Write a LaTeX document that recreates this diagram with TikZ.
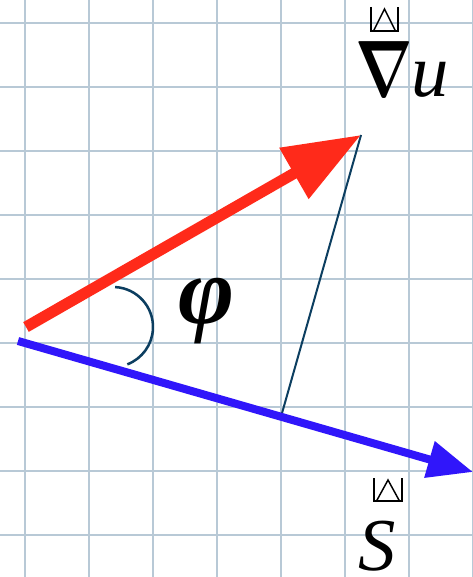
\documentclass[tikz,border=0pt]{standalone}
\usepackage{fontspec}
\setmainfont{Liberation Serif}
\usepackage{graphicx}
\usetikzlibrary{arrows.meta,calc}
\definecolor{gridc}{RGB}{184,201,214}
\definecolor{redc}{RGB}{255,42,26}
\definecolor{bluec}{RGB}{48,22,250}
\definecolor{darkc}{RGB}{12,62,96}
\begin{document}
\begin{tikzpicture}[x=0.75pt,y=-0.75pt,
  gridline/.style={draw=gridc,line width=1.9pt},
  bigtext/.style={inner sep=0pt,font=\fontsize{56}{60}\selectfont},
  tofu/.style={draw=black,line width=1.1pt}]
\useasboundingbox (0,0) rectangle (473,577);
\fill[white] (0,0) rectangle (473,577);
\clip (0,0) rectangle (473,577);
\foreach \x in {25,89,...,473} \draw[gridline] (\x,0) -- (\x,577);
\foreach \y in {23,87,...,535} \draw[gridline] (0,\y) -- (473,\y);
\coordinate (r0) at (26,327);
\coordinate (r1) at (361,135);
\coordinate (s0) at (18,341);
\coordinate (s1) at (473,472);
\coordinate (foot) at ($(s0)!0.578!(s1)$);
\coordinate (ac) at (113,327);
\draw[darkc,line width=1.5pt] (r1) -- (foot);
\draw[darkc,line width=1.9pt] (ac) ++(87:30pt) arc[start angle=87,end angle=-69,radius=30pt];
\draw[redc,line width=8.4pt,-{Triangle[length=58pt,width=42pt]}] (r0) -- (r1);
\draw[bluec,line width=6pt,-{Triangle[length=34pt,width=27pt]}] (s0) -- (s1);
\node[inner sep=0pt,font=\fontsize{10}{12}\selectfont,anchor=base west] (nab) at (355,97) {\scalebox{4.5}[6]{\boldmath$\nabla$}};
\node[bigtext,anchor=base west] (u) at (411,97) {\textit{u}};
\node[bigtext,anchor=base west] (S) at (358,570) {\textit{S}};
\node[bigtext,font=\fontsize{72}{76}\selectfont,anchor=base west] (phi) at (178,323) {\textbf{\textit{φ}}};
\draw[tofu] (371,7) -- (371,31) -- (398,31) -- (398,7);
\draw[tofu] (373.5,31) -- (384.5,9) -- (395.5,31);
\draw[tofu] (374,478) -- (374,501) -- (402,501) -- (402,478);
\draw[tofu] (376.5,501) -- (388,480) -- (399.5,501);
\end{tikzpicture}
\end{document}
